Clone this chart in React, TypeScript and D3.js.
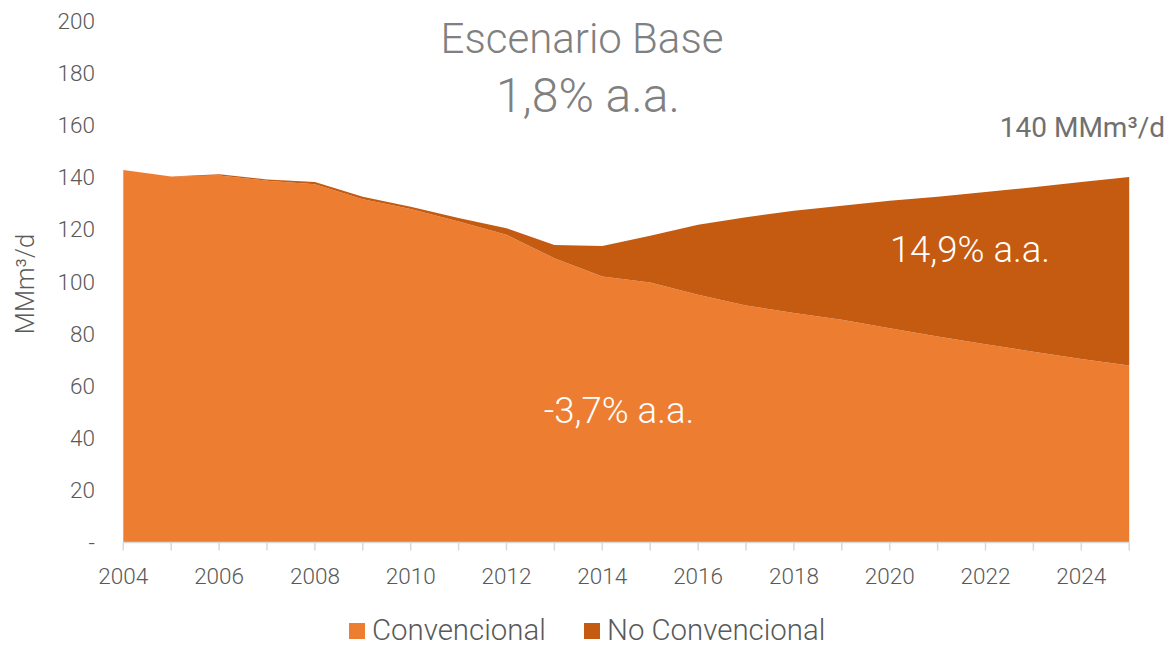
import React from 'react';
import * as d3 from 'd3';

const years = [2004, 2005, 2006, 2007, 2008, 2009, 2010, 2011, 2012, 2013, 2014, 2015, 2016, 2017, 2018, 2019, 2020, 2021, 2022, 2023, 2024, 2025];
const convencional = [142.7, 140.2, 140.6, 138.6, 137.3, 131.5, 127.8, 123.0, 117.9, 108.9, 101.9, 99.6, 94.9, 90.8, 87.9, 85.3, 82.1, 78.9, 76.0, 73.1, 70.3, 67.8];
const noConvencional = [0, 0, 0.5, 0.5, 0.8, 1.0, 0.8, 1.3, 2.5, 5.1, 11.7, 17.9, 26.8, 33.8, 39.2, 43.7, 48.8, 53.6, 58.3, 63.0, 67.8, 72.2];
const seriesNames = ['Convencional', 'No Convencional'];
const seriesColors = ['#ED7D31', '#C55A11'];
const yTicks = [0, 20, 40, 60, 80, 100, 120, 140, 160, 180, 200];
const xTickLabels = [2004, 2006, 2008, 2010, 2012, 2014, 2016, 2018, 2020, 2022, 2024];

const W = 1170;
const H = 646;
const margin = { top: 20.5, right: 40, bottom: 103.5, left: 123.3 };
const FONT = 'Roboto, "Noto Sans", sans-serif';

export default function App() {
  const innerW = 1129.2 - margin.left;
  const innerH = H - margin.top - margin.bottom;

  const x = d3.scaleLinear().domain([2004, 2025]).range([margin.left, margin.left + innerW]);
  const y = d3.scaleLinear().domain([0, 200]).range([margin.top + innerH, margin.top]);

  const rows = years.map((yr, i) => ({ year: yr, conv: convencional[i], noconv: noConvencional[i] }));
  const stack = d3.stack<any>().keys(['conv', 'noconv']);
  const layers = stack(rows);

  const area = d3.area<any>()
    .x((d) => x(d.data.year))
    .y0((d) => y(d[0]))
    .y1((d) => y(d[1]));

  const baseY = y(0);

  return (
    <svg width={W} height={H} style={{ position: 'absolute', left: 0, top: 0, background: '#fff' }} fontFamily={FONT}>
      {/* areas */}
      {layers.map((layer, i) => (
        <path key={i} d={area(layer) || ''} fill={seriesColors[i]} stroke="none" />
      ))}

      {/* x axis */}
      <line x1={x(2004)} x2={x(2025)} y1={baseY} y2={baseY} stroke="#d9d9d9" strokeWidth={1.5} />
      {years.map((yr) => (
        <line key={yr} x1={x(yr)} x2={x(yr)} y1={baseY} y2={baseY + 8} stroke="#d9d9d9" strokeWidth={1.5} />
      ))}
      {xTickLabels.map((yr) => (
        <text key={yr} x={x(yr)} y={baseY + 41} textAnchor="middle" fontSize={22.5} fontWeight={300} fill="#595959">
          {yr}
        </text>
      ))}

      {/* y axis */}
      {yTicks.map((t) => (
        <text key={t} x={95} y={y(t) + 8} textAnchor="end" fontSize={22.5} fontWeight={300} fill="#595959">
          {t === 0 ? '-' : t}
        </text>
      ))}
      <text
        transform={`translate(34, 284) rotate(-90)`}
        textAnchor="middle"
        fontSize={25.5}
        fontWeight={300}
        fill="#595959"
      >
        MMm³/d
      </text>

      {/* titles */}
      <text x={582} y={53} textAnchor="middle" fontSize={42} fontWeight={300} fill="#808080">
        Escenario Base
      </text>
      <text x={588} y={112} textAnchor="middle" fontSize={48} fontWeight={300} fill="#808080">
        1,8% a.a.
      </text>
      <text x={1165} y={137} textAnchor="end" fontSize={28} fontWeight={400} fill="#707070">
        140 MMm³/d
      </text>

      {/* growth labels */}
      <text x={970} y={262} textAnchor="middle" fontSize={36.5} fontWeight={300} fill="#fff">
        14,9% a.a.
      </text>
      <text x={619} y={423} textAnchor="middle" fontSize={36.5} fontWeight={300} fill="#fff">
        -3,7% a.a.
      </text>

      {/* legend */}
      {seriesNames.map((name, i) => {
        const lx = i === 0 ? 349 : 584;
        return (
          <g key={name}>
            <rect x={lx} y={623} width={16} height={16} fill={seriesColors[i]} />
            <text x={lx + 23} y={640} fontSize={29.4} fontWeight={300} fill="#595959">
              {name}
            </text>
          </g>
        );
      })}
    </svg>
  );
}
